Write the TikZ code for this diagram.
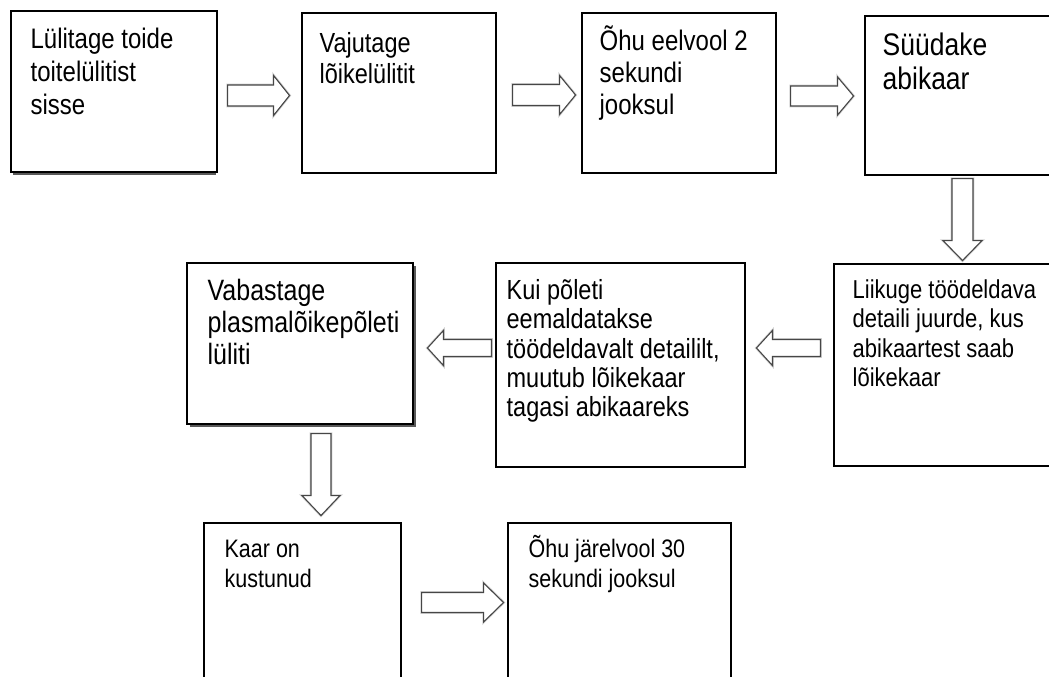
\documentclass[tikz,border=0pt]{standalone}
\usepackage{fontspec}
\setmainfont{Liberation Sans}[FakeStretch=0.85]
\usetikzlibrary{calc}
\tikzset{
  box/.style={draw=black, line width=1.1pt, fill=white, inner sep=0pt},
  txt/.style={anchor=base west, inner sep=0pt, text=black},
  arrowglow/.style={draw=gray!35, line width=2.6pt, line join=miter},
  arrowline/.style={draw=gray!55!black, line width=1.1pt, fill=white, line join=miter},
  pics/barrow/.style args={#1/#2/#3/#4}{code={
    \path[arrowglow] (-#1/2,-#2/2) -- (#1/2-#4,-#2/2) -- (#1/2-#4,-#3/2) -- (#1/2,0) -- (#1/2-#4,#3/2) -- (#1/2-#4,#2/2) -- (-#1/2,#2/2) -- cycle;
    \path[arrowline] (-#1/2,-#2/2) -- (#1/2-#4,-#2/2) -- (#1/2-#4,-#3/2) -- (#1/2,0) -- (#1/2-#4,#3/2) -- (#1/2-#4,#2/2) -- (-#1/2,#2/2) -- cycle;
  }},
  shadowline/.style={draw=gray!70!black, line width=1.2pt}
}
% font size given as the Arial-equivalent width size; height enlarged by 1/0.85
\newcommand\fs[2]{\fontsize{\fpeval{#1/0.85}}{#2}\selectfont}
\begin{document}
\begin{tikzpicture}[x=1pt,y=-1pt]
\useasboundingbox (0,0) rectangle (1049,677);
\fill[white] (0,0) rectangle (1049,677);
\clip (0,0) rectangle (1049,677);

% boxes
\draw[shadowline] (13,174) -- (216,174);
\node[box, minimum width=206pt, minimum height=161pt] (b1) at (114,91.5) {};
\node[box, minimum width=194pt, minimum height=160pt] (b2) at (399,93) {};
\node[box, minimum width=194pt, minimum height=160pt] (b3) at (679,93) {};
\node[box, minimum width=205pt, minimum height=159pt] (b4) at (967.5,95.5) {};
\node[box, minimum width=236pt, minimum height=202pt] (b5) at (952,365) {};
\node[box, minimum width=249pt, minimum height=204pt] (b6) at (620.5,365) {};
\draw[shadowline] (190,426) -- (415,426) -- (415,266);
\node[box, minimum width=226pt, minimum height=161pt] (b7) at (300,343.5) {};
\node[box, minimum width=197pt, minimum height=177pt] (b8) at (302.5,611.5) {};
\node[box, minimum width=223pt, minimum height=177pt] (b9) at (619.5,611.5) {};

% texts
\node[txt, font=\fs{24}{33}] (t1) at ($(b1.north west)+(20,38)$)
  {\vtop{\hbox{Lülitage toide}\hbox{toitelülitist}\hbox{sisse}}};
\node[txt, font=\fs{23.5}{31}] (t2) at ($(b2.north west)+(18,40)$)
  {\vtop{\hbox{Vajutage}\hbox{lõikelülitit}}};
\node[txt, font=\fs{24}{32}] (t3) at ($(b3.north west)+(18,38)$)
  {\vtop{\hbox{Õhu eelvool 2}\hbox{sekundi}\hbox{jooksul}}};
\node[txt, font=\fs{26.5}{34}] (t4) at ($(b4.north west)+(18,40)$)
  {\vtop{\hbox{Süüdake}\hbox{abikaar}}};
\node[txt, font=\fs{22}{29.5}] (t5) at ($(b5.north west)+(19,35)$)
  {\vtop{\hbox{Liikuge töödeldava}\hbox{detaili juurde, kus}\hbox{abikaartest saab}\hbox{lõikekaar}}};
\node[txt, font=\fs{23.5}{29.3}] (t6) at ($(b6.north west)+(11,37)$)
  {\vtop{\hbox{Kui põleti}\hbox{eemaldatakse}\hbox{töödeldavalt detaililt,}\hbox{muutub lõikekaar}\hbox{tagasi abikaareks}}};
\node[txt, font=\fs{25}{32}] (t7) at ($(b7.north west)+(21,38)$)
  {\vtop{\hbox{Vabastage}\hbox{plasmalõikepõleti}\hbox{lüliti}}};
\node[txt, font=\fs{21.5}{30}] (t8) at ($(b8.north west)+(21,35)$)
  {\vtop{\hbox{Kaar on}\hbox{kustunud}}};
\node[txt, font=\fs{21.5}{30}] (t9) at ($(b9.north west)+(21,35)$)
  {\vtop{\hbox{Õhu järelvool 30}\hbox{sekundi jooksul}}};

% block arrows
\pic at ($(b1.east)+(41,4)$) {barrow=62/21/40/16};
\pic at ($(b2.east)+(47.5,2)$) {barrow=63/21/39/16};
\pic at ($(b3.east)+(45.5,3)$) {barrow=63/20/38/16};
\pic[rotate=-90] at ($(b4.south)+(-5,44)$) {barrow=82/21/39/20};
\pic[rotate=180] at ($(b5.west)+(-45,-17)$) {barrow=64/17/35/16};
\pic[rotate=180] at ($(b6.west)+(-36,-17)$) {barrow=64/17/35/16};
\pic[rotate=-90] at ($(b7.south)+(21,50)$) {barrow=82/20/38/20};
\pic at ($(b8.east)+(61,-9)$) {barrow=82/20/39/20};
\end{tikzpicture}
\end{document}
